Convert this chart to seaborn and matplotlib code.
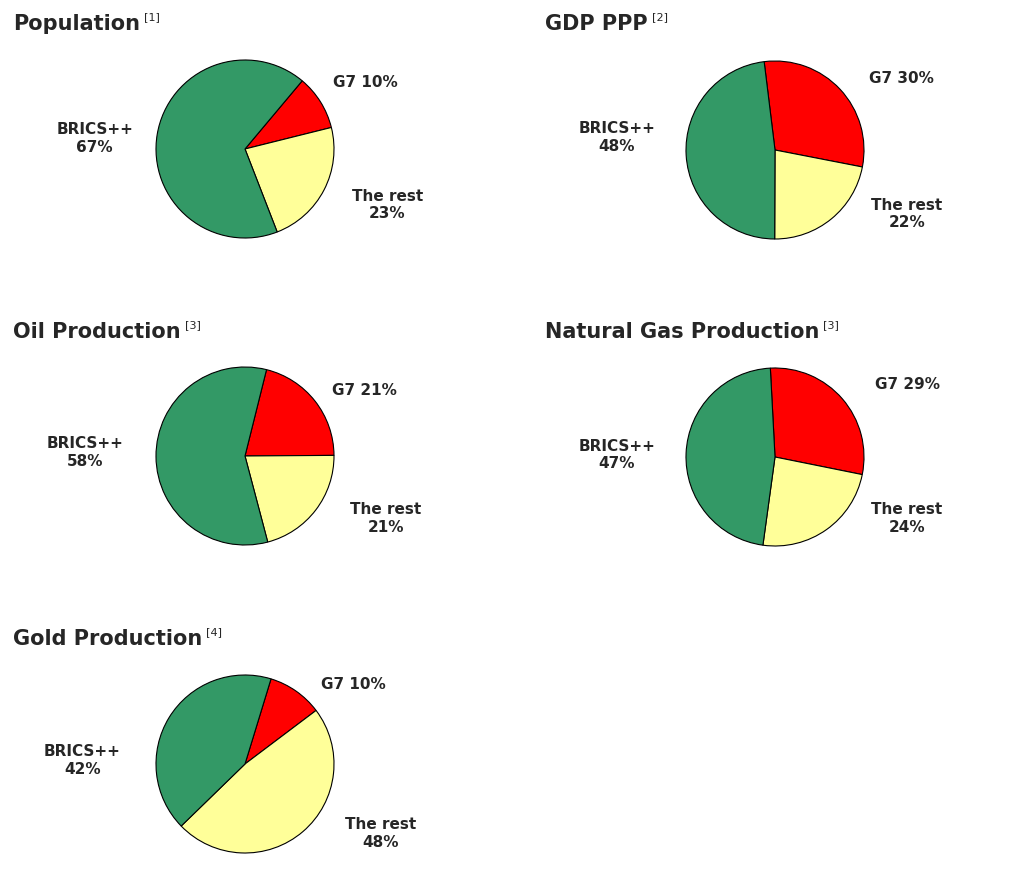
import matplotlib
matplotlib.use("Agg")
import matplotlib.pyplot as plt
import seaborn as sns

sns.set_style("white")
plt.rcParams['font.family'] = ['DejaVu Sans']

# data
titles = ["Population", "GDP PPP", "Oil Production", "Natural Gas Production", "Gold Production"]
refs = ["[1]", "[2]", "[3]", "[3]", "[4]"]
groups = ["G7", "The rest", "BRICS++"]
g7 = [10, 30, 21, 29, 10]
rest = [23, 22, 21, 24, 48]
brics = [67, 48, 58, 47, 42]
start_angles = [50, 97, 76, 93, 73]

colors = ["#FF0000", "#FFFF99", "#339966"]

W, H = 1024, 881
# box (left, top, right, bottom) and pie centre / radius in pixels
boxes = [(3, 2, 518, 265), (535, 2, 1020, 265), (3, 310, 518, 573),
         (535, 310, 1020, 573), (3, 617, 491, 880)]
centers = [(245, 149), (775, 150), (245, 456), (775, 457), (245, 764)]
R = 89
label_pos = [
    [(1.35, 0.75), (1.6, -0.63), (-1.69, 0.12)],
    [(1.42, 0.80), (1.48, -0.72), (-1.78, 0.14)],
    [(1.34, 0.74), (1.58, -0.70), (-1.80, 0.04)],
    [(1.49, 0.81), (1.48, -0.69), (-1.78, 0.02)],
    [(1.22, 0.89), (1.52, -0.78), (-1.83, 0.04)],
]

fig = plt.figure(figsize=(W / 100, H / 100), dpi=100)

for i in range(5):
    l, t, r, b = boxes[i]
    cx, cy = centers[i]
    ax = fig.add_axes([l / W, 1 - b / H, (r - l) / W, (b - t) / H])
    vals = [g7[i], rest[i], brics[i]]
    ax.pie(vals, colors=colors, startangle=start_angles[i], counterclock=False,
           radius=1, wedgeprops=dict(edgecolor="black", linewidth=0.8))
    ax.set_aspect("auto")
    ax.set_xlim(-(cx - l) / R, (r - cx) / R)
    ax.set_ylim(-(b - cy) / R, (cy - t) / R)
    ax.axis("on")
    ax.set_xticks([])
    ax.set_yticks([])
    for s in ax.spines.values():
        s.set_visible(True)
        s.set_color("#444444")
        s.set_linewidth(1)
    texts = [f"G7 {g7[i]}%", f"The rest\n{rest[i]}%", f"BRICS++\n{brics[i]}%"]
    for (x, y), txt in zip(label_pos[i], texts):
        ax.text(x, y, txt, ha="center", va="center", fontsize=11, fontweight="bold",
                linespacing=1.2)
    tt = ax.text(10 / (r - l), 1 - 28 / (b - t), titles[i], transform=ax.transAxes,
                 fontsize=15, fontweight="bold", va="baseline", ha="left")
    fig.canvas.draw()
    bb = tt.get_window_extent()
    x1, _ = ax.transAxes.inverted().transform((bb.x1 + 4, bb.y1))
    ax.text(x1, 1 - 18 / (b - t), refs[i], transform=ax.transAxes,
            fontsize=8, va="baseline", ha="left")

fig.savefig("out.png", dpi=100)
